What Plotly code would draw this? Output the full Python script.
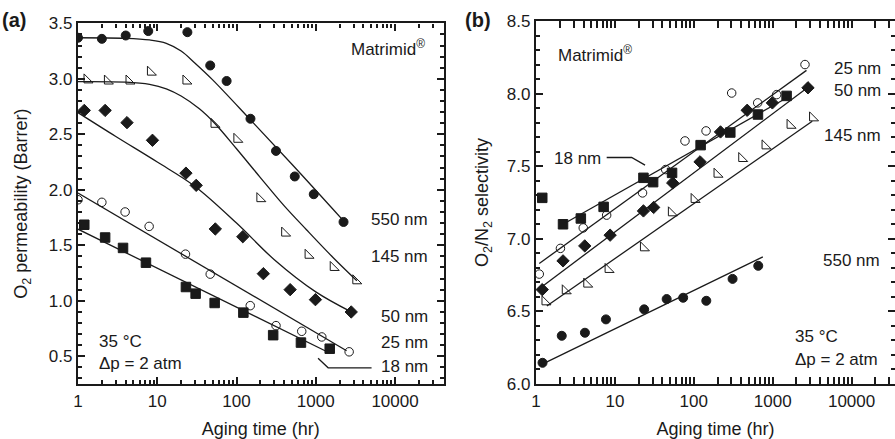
import plotly.graph_objects as go

# ---------------- data ----------------
# Aging times (hr) for each film thickness
t18 = [1.2, 2.2, 3.7, 7.2, 23, 30.5, 53, 122, 290, 650, 1500]
t50 = [1.2, 2.2, 4.15, 8.7, 23, 31, 54, 120, 218, 475, 990, 2800]
t145 = [1.3, 2.35, 4.4, 8.2, 23, 52, 101, 197, 405, 800, 1660, 3200]
t25_perm = [1.0, 2.0, 3.93, 7.9, 22.7, 46.6, 149, 315, 665, 1191, 2637]
t25_sel = [1.1, 2.04, 3.97, 7.86, 22.4, 44, 77.3, 143, 302, 645, 1123, 2566]
t550_perm = [1.0, 2.0, 4.0, 7.7, 24, 46.6, 75, 150, 315, 543, 943, 2240]
t550_sel = [1.21, 2.12, 4.17, 7.7, 23.5, 45.3, 73.3, 144, 310, 656]

# O2 permeability (Barrer)
perm18 = [1.685, 1.57, 1.476, 1.343, 1.124, 1.064, 0.98, 0.893, 0.69, 0.623, 0.568]
perm25 = [1.91, 1.887, 1.80, 1.67, 1.42, 1.24, 0.956, 0.776, 0.725, 0.674, 0.54]
perm50 = [2.715, 2.715, 2.605, 2.446, 2.15, 2.04, 1.647, 1.577, 1.244, 1.10, 1.01, 0.899]
perm145 = [2.99, 2.98, 2.98, 3.06, 2.98, 2.59, 2.455, 1.92, 1.61, 1.41, 1.30, 1.18]
perm550 = [3.37, 3.36, 3.39, 3.43, 3.42, 3.12, 2.98, 2.64, 2.35, 2.12, 1.96, 1.71]

# O2/N2 selectivity
sel18 = [7.282, 7.10, 7.14, 7.22, 7.42, 7.39, 7.454, 7.645, 7.732, 7.856, 7.984]
sel25 = [6.757, 6.934, 7.075, 7.163, 7.316, 7.477, 7.674, 7.743, 8.004, 7.936, 7.993, 8.2]
sel50 = [6.65, 6.848, 6.951, 7.025, 7.192, 7.216, 7.385, 7.53, 7.736, 7.885, 7.936, 8.04]
sel145 = [6.566, 6.642, 6.688, 6.789, 6.938, 7.179, 7.271, 7.445, 7.553, 7.64, 7.782, 7.833]
sel550 = [6.146, 6.332, 6.353, 6.445, 6.514, 6.585, 6.594, 6.573, 6.724, 6.814]

# Model fit curves: permeability
fit_perm550_t = [1, 4, 8, 13, 20, 30, 50, 150, 500, 2240]
fit_perm550_y = [3.37, 3.365, 3.35, 3.32, 3.25, 3.14, 2.99, 2.63, 2.23, 1.72]
fit_perm145_t = [1, 4, 8, 13, 20, 34, 53, 100, 200, 400, 763, 1650, 3300]
fit_perm145_y = [2.975, 2.97, 2.95, 2.91, 2.845, 2.73, 2.60, 2.37, 2.11, 1.855, 1.64, 1.39, 1.18]
fit_perm50_t = [1, 3, 10, 30, 100, 300, 1000, 2800]
fit_perm50_y = [2.695, 2.48, 2.25, 2.03, 1.70, 1.37, 1.08, 0.90]
fit_perm25_t = [1, 2450]
fit_perm25_y = [1.97, 0.55]
fit_perm18_t = [1, 1430]
fit_perm18_y = [1.645, 0.536]

# Model fit curves: selectivity
fit_sel25_t = [1.1, 2680]
fit_sel25_y = [6.83, 8.16]
fit_sel50_t = [1.12, 2750]
fit_sel50_y = [6.66, 8.04]
fit_sel145_t = [1.37, 3170]
fit_sel145_y = [6.537, 7.81]
fit_sel18_t = [2.2, 1500]
fit_sel18_y = [7.10, 7.97]
fit_sel550_t = [1.1, 750]
fit_sel550_y = [6.126, 6.876]

# Leader lines for the "18 nm" labels
lead_perm_t = [1069, 1432, 5058]
lead_perm_y = [0.482, 0.396, 0.396]
lead_sel_t = [7.87, 16.3, 24.1]
lead_sel_y = [7.56, 7.56, 7.507]

x_tickvals = [1, 10, 100, 1000, 10000]
x_ticktext = ["1", "10", "100", "1000", "10000"]
# log minor ticks: 2..9 within each decade
x_minorvals = [m * 10 ** d for d in range(5) for m in range(2, 10)]

# ---------------- figure ----------------
INK = "#1a1a1a"
FONT = "Liberation Sans, Arial, sans-serif"

fig = go.Figure()


def add_line(x, y, xa, ya, shape="linear"):
    fig.add_trace(go.Scatter(x=x, y=y, mode="lines", xaxis=xa, yaxis=ya,
                             line=dict(color=INK, width=1.3, shape=shape),
                             showlegend=False, hoverinfo="skip"))


def add_pts(x, y, xa, ya, symbol, size):
    fig.add_trace(go.Scatter(x=x, y=y, mode="markers", xaxis=xa, yaxis=ya,
                             marker=dict(symbol=symbol, size=size, color=INK,
                                         line=dict(color=INK, width=1)),
                             showlegend=False))


# Panel (a): permeability
add_line(fit_perm550_t, fit_perm550_y, "x", "y", "spline")
add_line(fit_perm145_t, fit_perm145_y, "x", "y", "spline")
add_line(fit_perm50_t, fit_perm50_y, "x", "y", "spline")
add_line(fit_perm25_t, fit_perm25_y, "x", "y")
add_line(fit_perm18_t, fit_perm18_y, "x", "y")
add_line(lead_perm_t, lead_perm_y, "x", "y")
add_pts(t550_perm, perm550, "x", "y", "circle", 9)
add_pts(t145, perm145, "x", "y", "triangle-sw-open", 10)
add_pts(t50, perm50, "x", "y", "diamond", 9.5)
add_pts(t25_perm, perm25, "x", "y", "circle-open", 8.5)
add_pts(t18, perm18, "x", "y", "square", 9.5)

# Panel (b): selectivity (markers on y2, fit lines on the overlaid y3)
add_pts(t550_sel, sel550, "x2", "y2", "circle", 9)
add_pts(t145, sel145, "x2", "y2", "triangle-sw-open", 10)
add_pts(t50, sel50, "x2", "y2", "diamond", 9.5)
add_pts(t25_sel, sel25, "x2", "y2", "circle-open", 8.5)
add_pts(t18, sel18, "x2", "y2", "square", 9.5)
add_line(fit_sel25_t, fit_sel25_y, "x2", "y3")
add_line(fit_sel50_t, fit_sel50_y, "x2", "y3")
add_line(fit_sel145_t, fit_sel145_y, "x2", "y3")
add_line(fit_sel18_t, fit_sel18_y, "x2", "y3")
add_line(fit_sel550_t, fit_sel550_y, "x2", "y3")
add_line(lead_sel_t, lead_sel_y, "x2", "y3")

W, H = 895, 439
ML, MR, MT, MB = 78, 0, 21, 55
PW = W - ML - MR
PH = H - MT - MB


def xpx(px):
    return (px - ML) / PW


tickfont = dict(family=FONT, size=17, color=INK)
titlefont = dict(family=FONT, size=18, color=INK)

MAJOR = dict(ticks="inside", ticklen=7, tickwidth=2, tickcolor=INK)
MINOR_Y = dict(ticks="inside", ticklen=4, tickwidth=1.6, tickcolor=INK,
               dtick=0.1, showgrid=False)

xcommon = dict(MAJOR, type="log", showline=True, linewidth=2.4, linecolor=INK,
               tickmode="array", tickvals=x_tickvals, ticktext=x_ticktext,
               tickfont=tickfont, showgrid=False, zeroline=False,
               minor=dict(ticks="inside", ticklen=4, tickwidth=1.6, tickcolor=INK,
                          tickmode="array", tickvals=x_minorvals, showgrid=False))
ycommon = dict(MAJOR, showline=True, linewidth=2.4, linecolor=INK,
               dtick=0.5, tickformat=".1f", tickfont=tickfont,
               showgrid=False, zeroline=False, minor=MINOR_Y)

fig.update_layout(
    width=W, height=H,
    showlegend=False,
    margin=dict(l=ML, r=MR, t=MT, b=MB, pad=0),
    paper_bgcolor="white", plot_bgcolor="white",
    font=dict(family=FONT, color=INK),
    xaxis=dict(xcommon, domain=[0, xpx(443.7)], range=[0, 4.614], mirror="allticks",
               anchor="y",
               title=dict(text="Aging time (hr)", font=titlefont, standoff=14)),
    yaxis=dict(ycommon, domain=[0, (383.5 - 23.3) / (383.5 - MT)], range=[0.25, 3.5],
               tick0=0.5, mirror="allticks", anchor="x",
               title=dict(text="O<sub>2</sub> permeability (Barrer)", font=titlefont,
                          standoff=16)),
    xaxis2=dict(xcommon, domain=[xpx(536), 1], range=[0, 4.55], mirror="allticks",
                anchor="y2",
                title=dict(text="Aging time (hr)", font=titlefont, standoff=14)),
    yaxis2=dict(ycommon, domain=[0, 1], range=[6.0, 8.5], tick0=6.0, mirror=False,
                anchor="x2",
                title=dict(text="O<sub>2</sub>/N<sub>2</sub> selectivity",
                           font=titlefont, standoff=13)),
    # tick marks along the right-hand edge of panel (b)
    yaxis3=dict(MAJOR, overlaying="y2", anchor="x2", side="right", range=[6.0, 8.5],
                showline=False, showticklabels=False, showgrid=False, zeroline=False,
                dtick=0.5, tick0=6.0, minor=MINOR_Y),
)

ann_font = dict(family=FONT, size=17, color=INK)
notes = []


def note(text, x, y, xref, yref, xanchor="right", font=ann_font):
    notes.append(dict(text=text, x=x, y=y, xref=xref, yref=yref, xanchor=xanchor,
                      yanchor="middle", showarrow=False, font=font))


# panel letters
bold = dict(family=FONT, size=20, color=INK)
note("<b>(a)</b>", xpx(0), 1 + (MT - 20) / PH, "paper", "paper", "left", bold)
note("<b>(b)</b>", xpx(463), 1 + (MT - 20) / PH, "paper", "paper", "left", bold)

# panel (a) labels
note("Matrimid<sup>®</sup>", 0.955, 3.275, "x domain", "y")
note("550 nm", 0.9625, 1.728, "x domain", "y")
note("145 nm", 0.9625, 1.396, "x domain", "y")
note("50 nm", 0.9625, 0.857, "x domain", "y")
note("25 nm", 0.9625, 0.622, "x domain", "y")
note("18 nm", 0.9625, 0.406, "x domain", "y")
note("35 °C", 0.052, 0.632, "x domain", "y", "left")
note("Δp = 2 atm", 0.052, 0.437, "x domain", "y", "left")

# panel (b) labels
note("Matrimid<sup>®</sup>", 0.0557, 8.276, "x2 domain", "y2", "left")
note("25 nm", 0.9666, 8.172, "x2 domain", "y2")
note("50 nm", 0.9666, 8.018, "x2 domain", "y2")
note("145 nm", 0.9666, 7.713, "x2 domain", "y2")
note("550 nm", 0.963, 6.848, "x2 domain", "y2")
note("18 nm", 0.1866, 7.553, "x2 domain", "y2")
note("35 °C", 0.7167, 6.325, "x2 domain", "y2", "left")
note("Δp = 2 atm", 0.7167, 6.170, "x2 domain", "y2", "left")

fig.update_layout(annotations=notes)

fig.write_html("out.html")
